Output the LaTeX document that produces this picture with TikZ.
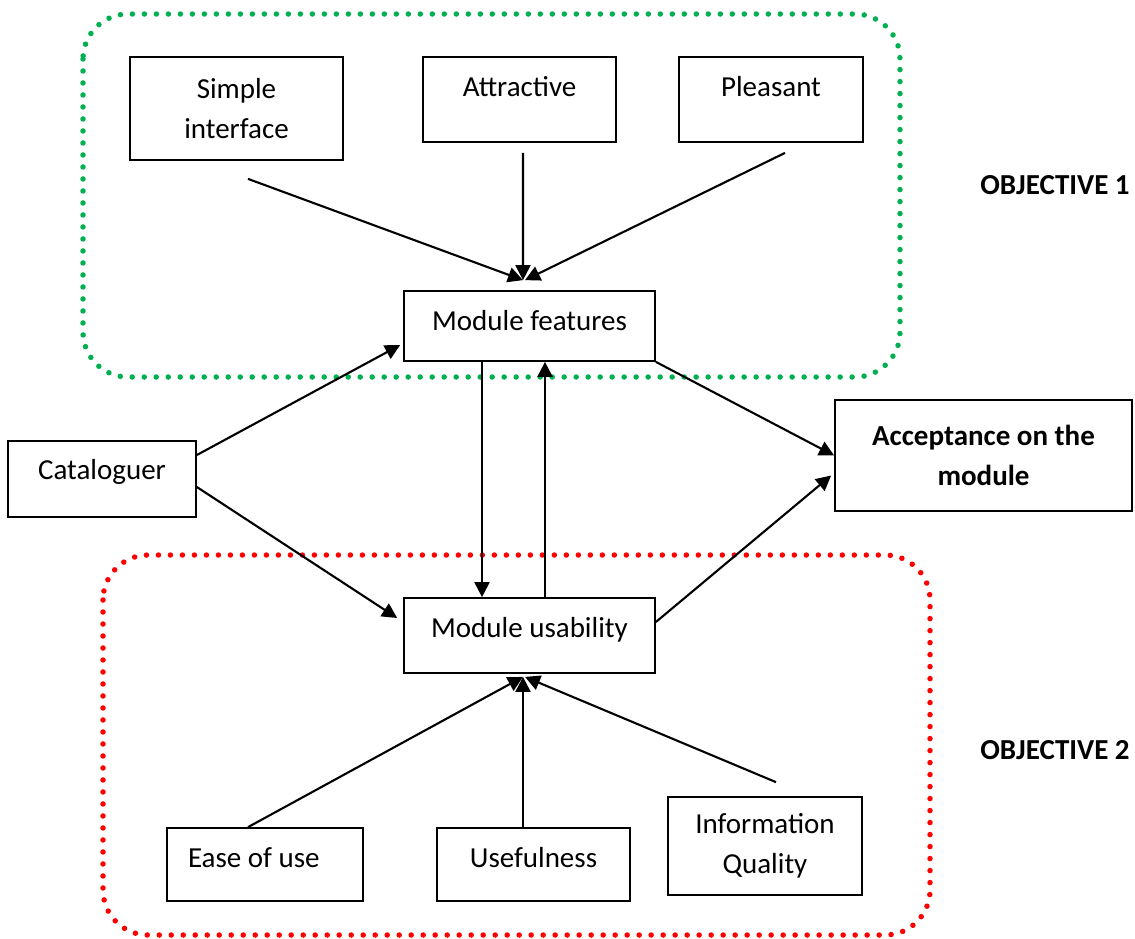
\documentclass[tikz,border=0pt]{standalone}
\usepackage{fontspec}
\setmainfont{Carlito}
\usetikzlibrary{arrows.meta}

\definecolor{objgreen}{RGB}{0,176,80}
\definecolor{objred}{RGB}{255,0,0}

\tikzset{
  box/.style={draw, line width=1pt, inner sep=0pt, align=center,
    font=\fontsize{16.5}{22.7}\selectfont},
  arr/.style={-{Triangle[length=0.3cm,width=0.3cm]}, line width=1.2pt},
  dots/.style={line width=0.11cm, dash pattern=on 0pt off 0.24cm, line cap=round,
    rounded corners=0.9cm},
  objective/.style={font=\fontsize{16.5}{20}\selectfont\bfseries}
}

\begin{document}
\begin{tikzpicture}[x=0.02cm, y=-0.02cm]

\useasboundingbox (0,0) rectangle (1135,938);

% Objective regions
\draw[dots, objgreen] (83,14) rectangle (900,377);
\draw[dots, objred] (103,555) rectangle (930,935);

% Factor nodes
\node[box, minimum width=4.26cm, minimum height=2.06cm] (simple) at (236.5,108.5) {Simple\\interface};
\node[box, minimum width=3.86cm, text height=0.78cm, text depth=0.92cm] (attractive) at (519.5,99.5) {Attractive};
\node[box, minimum width=3.68cm, text height=0.78cm, text depth=0.92cm] (pleasant) at (771,99.5) {Pleasant};

\node[box, minimum width=5.02cm, text height=0.78cm, text depth=0.62cm] (features) at (529.5,326) {Module features};
\node[box, minimum width=3.76cm, text height=0.76cm, text depth=0.76cm] (cataloguer) at (102,479) {Cataloguer};
\node[box, minimum width=5.94cm, minimum height=2.22cm, font=\fontsize{16.5}{22.7}\selectfont\bfseries] (acceptance) at (983.5,455.5) {Acceptance on the\\module};
\node[box, minimum width=5.02cm, text height=0.78cm, text depth=0.72cm] (usability) at (529.5,635.5) {Module usability};

\node[box, inner xsep=0.42cm, text width=3.08cm, align=flush left, text height=0.78cm, text depth=0.68cm] (ease) at (265,864.5) {Ease of use};
\node[box, minimum width=3.86cm, text height=0.78cm, text depth=0.68cm] (useful) at (533.5,864.5) {Usefulness};
\node[box, minimum width=3.88cm, minimum height=1.96cm] (quality) at (765,846) {Information\\Quality};

% Objective labels
\node[objective] (obj1) at (1055,185) {OBJECTIVE 1};
\node[objective] (obj2) at (1055,750) {OBJECTIVE 2};

% Objective 1 connections
\draw[arr] ([shift={(11.5,18)}]simple.south) -- ([shift={(-6.5,-10)}]features.north);
\draw[arr] ([shift={(3.5,10)}]attractive.south) -- ([shift={(-6.5,-10)}]features.north);
\draw[arr] ([shift={(14,10)}]pleasant.south) -- ([shift={(-4.5,-10)}]features.north);

% Middle connections
\draw[arr] ([shift={(-47.5,0)}]features.south) -- ([shift={(-47.5,0)}]usability.north);
\draw[arr] ([shift={(15.5,0)}]usability.north) -- ([shift={(15.5,0)}]features.south);
\draw[arr] ([shift={(0,-24)}]cataloguer.east) -- ([shift={(-3,19)}]features.west);
\draw[arr] ([shift={(0,8)}]cataloguer.east) -- ([shift={(-6,-17.5)}]usability.west);
\draw[arr] (features.south east) -- (acceptance.west);
\draw[arr] ([shift={(0,-13.5)}]usability.east) -- ([shift={(-3,20)}]acceptance.west);

% Objective 2 connections
\draw[arr] ([shift={(-17,0)}]ease.north) -- ([shift={(-6.5,3)}]usability.south);
\draw[arr] ([shift={(-10.5,0)}]useful.north) -- ([shift={(-6.5,3)}]usability.south);
\draw[arr] ([shift={(11,-14)}]quality.north) -- ([shift={(-4.5,3)}]usability.south);

\end{tikzpicture}
\end{document}
